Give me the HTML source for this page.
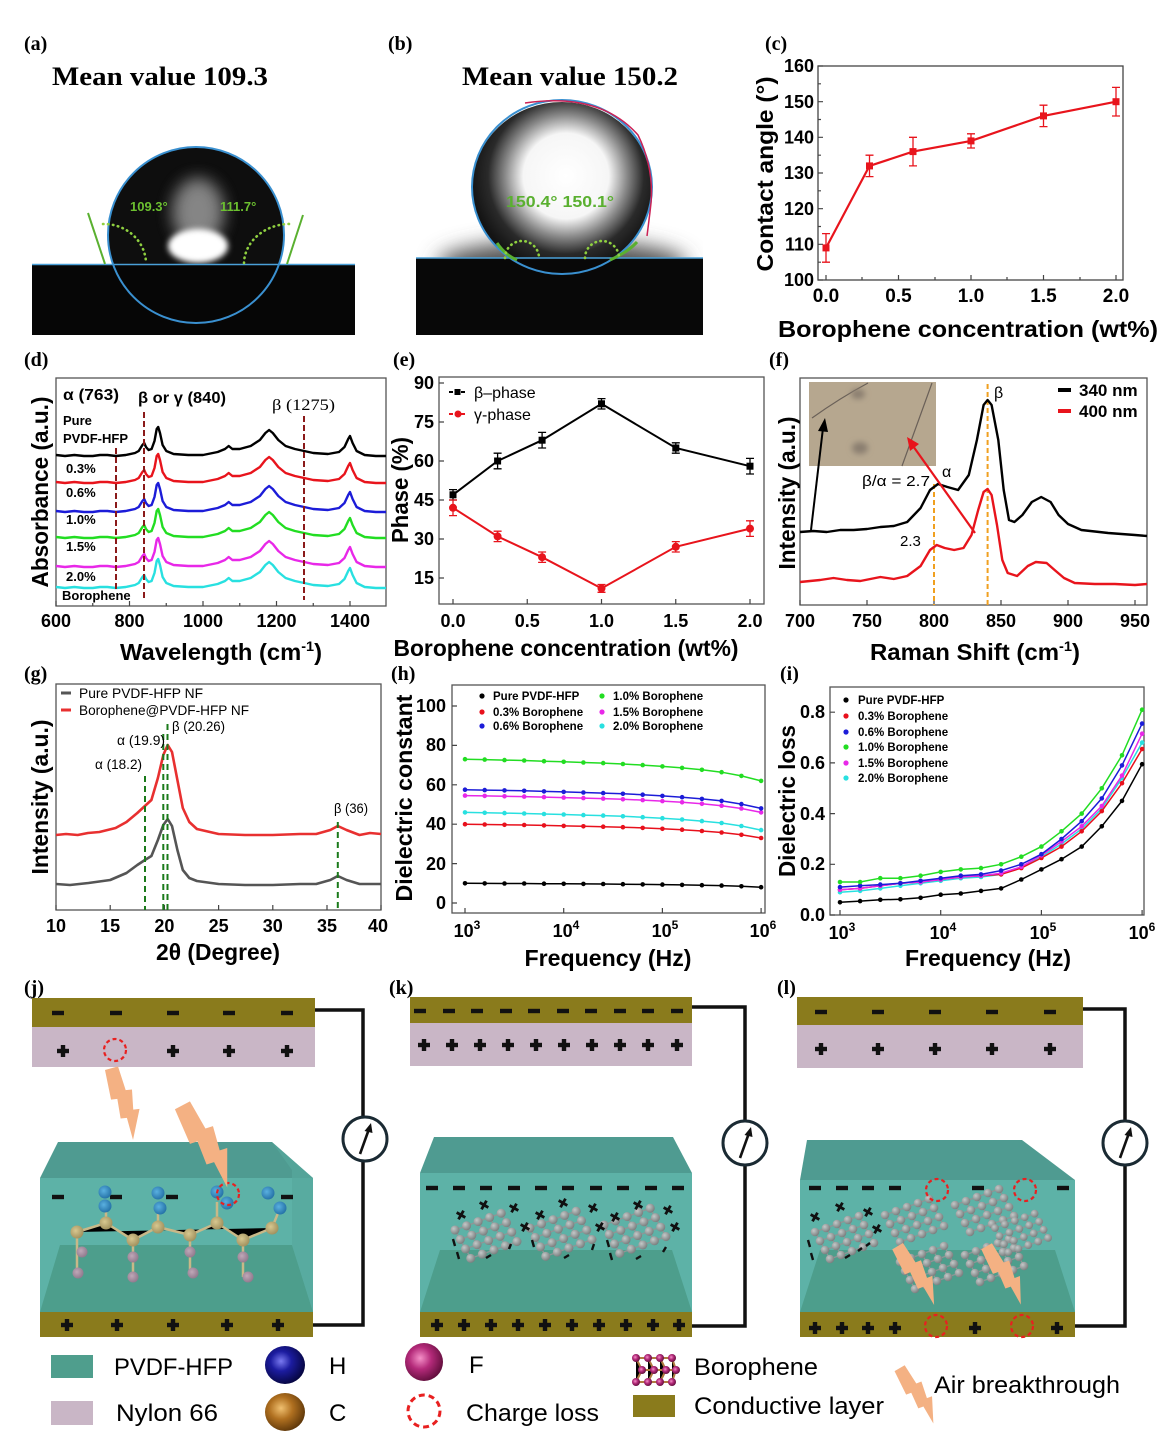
<!DOCTYPE html>
<html><head><meta charset="utf-8">
<style>
html,body{margin:0;padding:0;background:#fff;width:1171px;height:1444px;overflow:hidden}
svg{display:block}
.s{font-family:"Liberation Sans",Arial,sans-serif}
.b{font-family:"Liberation Sans",Arial,sans-serif;font-weight:bold}
.pl{font-family:"Liberation Serif","Times New Roman",serif;font-weight:bold;font-size:20px}
.tk{font-family:"Liberation Sans",Arial,sans-serif;font-weight:bold;font-size:18px}
.ttl{font-family:"Liberation Sans",Arial,sans-serif;font-weight:bold;font-size:23px}
.lg{font-family:"Liberation Sans",Arial,sans-serif;font-size:24px}
</style></head><body>
<svg width="1171" height="1444" viewBox="0 0 1171 1444" xmlns="http://www.w3.org/2000/svg">
<defs>
<filter id="bl3" x="-50%" y="-50%" width="200%" height="200%"><feGaussianBlur stdDeviation="3"/></filter>
<filter id="bl8" x="-50%" y="-50%" width="200%" height="200%"><feGaussianBlur stdDeviation="8"/></filter>
<filter id="bl10" x="-50%" y="-50%" width="200%" height="200%"><feGaussianBlur stdDeviation="10"/></filter>
<clipPath id="ca"><rect x="32" y="100" width="323" height="165"/></clipPath>
<clipPath id="dropA"><circle cx="196" cy="235" r="88"/></clipPath>
<clipPath id="cb"><rect x="416" y="93" width="287" height="166"/></clipPath>
<radialGradient id="gB" gradientUnits="userSpaceOnUse" cx="566" cy="176" r="95">
<stop offset="0" stop-color="#fff"/><stop offset="0.45" stop-color="#f6f6f6"/><stop offset="0.64" stop-color="#8a8a8a"/><stop offset="0.82" stop-color="#2a2a2a"/><stop offset="1" stop-color="#141414"/></radialGradient>
<radialGradient id="gball" cx="0.35" cy="0.35" r="0.7"><stop offset="0" stop-color="#c4c8c8"/><stop offset="1" stop-color="#767c7c"/></radialGradient>
<radialGradient id="gH" cx="0.4" cy="0.4" r="0.65"><stop offset="0" stop-color="#7a7af0"/><stop offset="0.4" stop-color="#1c1ca0"/><stop offset="1" stop-color="#04043a"/></radialGradient>
<radialGradient id="gC" cx="0.4" cy="0.4" r="0.65"><stop offset="0" stop-color="#f0c070"/><stop offset="0.45" stop-color="#b07020"/><stop offset="1" stop-color="#5a3408"/></radialGradient>
<radialGradient id="gF" cx="0.4" cy="0.4" r="0.65"><stop offset="0" stop-color="#f590c8"/><stop offset="0.45" stop-color="#b42a7a"/><stop offset="1" stop-color="#5c0c38"/></radialGradient>
<radialGradient id="gHs" cx="0.4" cy="0.4" r="0.7"><stop offset="0" stop-color="#5ab0e0"/><stop offset="1" stop-color="#1e6aa0"/></radialGradient>
<radialGradient id="gCs" cx="0.4" cy="0.4" r="0.7"><stop offset="0" stop-color="#d8c890"/><stop offset="1" stop-color="#9a8a58"/></radialGradient>
<radialGradient id="gFs" cx="0.4" cy="0.4" r="0.7"><stop offset="0" stop-color="#c0a8b8"/><stop offset="1" stop-color="#8a7488"/></radialGradient>
<polyline id="spec" fill="none" stroke-width="2.4" stroke-linejoin="round" points="56,0 65,1 74.4,0 84,1 92.8,1 100,0 107.4,0 115.9,1 125.8,0 135,-2 138.7,-4 142.4,-10 144.2,-12 146,-8 148.6,-5 151.6,-6 154.5,-14 156.7,-26 158.2,-28 160,-22 162.6,-10 166.3,-4 173.6,-1 188.3,0 203,0 217.7,-3 225,-6 228.7,-9 232.4,-6 239.7,-6 250.7,-9 259.9,-15 265.4,-22 269.1,-25 272.8,-22 278.3,-15 285.6,-9 294.9,-6 304.1,-4 313.3,-2 328,-1 339,-3 344.5,-8 348.2,-16 350,-19 352.6,-12 356.6,-4 364.7,0 375.8,1 386,1"/>
<g id="mn"><rect x="-6" y="-2.2" width="12" height="4.4" fill="#111"/></g>
<g id="pls"><rect x="-6" y="-2.2" width="12" height="4.4" fill="#111"/><rect x="-2.2" y="-6" width="4.4" height="12" fill="#111"/></g>
<g id="xm"><rect x="-5" y="-1.4" width="10" height="2.8" fill="#111" transform="rotate(30)"/><rect x="-1.4" y="-5" width="2.8" height="10" fill="#111" transform="rotate(30)"/></g>
<circle id="cl" r="11" fill="none" stroke="#e82020" stroke-width="2.2" stroke-dasharray="4 3"/>
<polygon id="bolt" points="-7,0 6,0 7,24 13,25 9,44 15,45 1,72 1,50 -5,49 -3,30 -9,29" fill="#f4b183"/>
<g id="sh">
<path d="M0,0 L44,-16 M5,9 L49,-7 M10,18 L54,2 M15,27 L59,11 M0,0 L15,27 M11,-4 L26,23 M22,-8 L37,19 M33,-12 L48,15 M44,-16 L59,11" stroke="#8e9696" stroke-width="1.3" fill="none"/>
<g fill="url(#gball)">
<circle cx="0" cy="0" r="4.3"/><circle cx="11" cy="-4" r="4.3"/><circle cx="22" cy="-8" r="4.3"/><circle cx="33" cy="-12" r="4.3"/><circle cx="44" cy="-16" r="4.3"/>
<circle cx="5" cy="9" r="4.3"/><circle cx="16" cy="5" r="4.3"/><circle cx="27" cy="1" r="4.3"/><circle cx="38" cy="-3" r="4.3"/><circle cx="49" cy="-7" r="4.3"/>
<circle cx="10" cy="18" r="4.3"/><circle cx="21" cy="14" r="4.3"/><circle cx="32" cy="10" r="4.3"/><circle cx="43" cy="6" r="4.3"/><circle cx="54" cy="2" r="4.3"/>
<circle cx="15" cy="27" r="4.3"/><circle cx="26" cy="23" r="4.3"/><circle cx="37" cy="19" r="4.3"/><circle cx="48" cy="15" r="4.3"/><circle cx="59" cy="11" r="4.3"/>
</g></g>
<g id="meter"><circle r="22" fill="#fff" stroke="#1a2a33" stroke-width="3"/><line x1="-5" y1="15" x2="4" y2="-10" stroke="#111" stroke-width="2.6"/><polygon points="6,-16 -0.5,-8 7.5,-6" fill="#111"/></g>
<marker id="m0" viewBox="-3 -3 6 6" markerWidth="6" markerHeight="6" markerUnits="userSpaceOnUse"><circle r="2.3" fill="#000"/></marker>
<marker id="m1" viewBox="-3 -3 6 6" markerWidth="6" markerHeight="6" markerUnits="userSpaceOnUse"><circle r="2.3" fill="#e8101c"/></marker>
<marker id="m2" viewBox="-3 -3 6 6" markerWidth="6" markerHeight="6" markerUnits="userSpaceOnUse"><circle r="2.3" fill="#1c1cd8"/></marker>
<marker id="m3" viewBox="-3 -3 6 6" markerWidth="6" markerHeight="6" markerUnits="userSpaceOnUse"><circle r="2.3" fill="#22dd22"/></marker>
<marker id="m4" viewBox="-3 -3 6 6" markerWidth="6" markerHeight="6" markerUnits="userSpaceOnUse"><circle r="2.3" fill="#e828e8"/></marker>
<marker id="m5" viewBox="-3 -3 6 6" markerWidth="6" markerHeight="6" markerUnits="userSpaceOnUse"><circle r="2.3" fill="#28e0e0"/></marker>
</defs>

<!-- Panel labels -->
<text class="pl" x="24" y="50">(a)</text>
<text class="pl" x="388" y="50">(b)</text>
<text class="pl" x="765" y="50">(c)</text>
<text class="pl" x="24" y="366">(d)</text>
<text class="pl" x="393" y="366">(e)</text>
<text class="pl" x="769" y="366">(f)</text>
<text class="pl" x="24" y="680">(g)</text>
<text class="pl" x="391" y="680">(h)</text>
<text class="pl" x="780" y="680">(i)</text>
<text class="pl" x="24" y="994">(j)</text>
<text class="pl" x="389" y="994">(k)</text>
<text class="pl" x="777" y="994">(l)</text>

<!-- (a) -->
<text class="pl" x="52" y="85" style="font-size:26px" textLength="216" lengthAdjust="spacingAndGlyphs">Mean value 109.3</text>
<g clip-path="url(#ca)">
<circle cx="196" cy="235" r="88" fill="#0e0e0e"/>
<g clip-path="url(#dropA)">
<ellipse cx="198" cy="212" rx="26" ry="34" fill="#9a9a9a" opacity="0.85" filter="url(#bl8)"/>
<ellipse cx="198" cy="246" rx="30" ry="17" fill="#fff" filter="url(#bl3)"/>
</g></g>
<rect x="32" y="265" width="323" height="70" fill="#060606"/>
<line x1="32" y1="264.5" x2="355" y2="264.5" stroke="#4aa0d8" stroke-width="1.5"/>
<circle cx="196" cy="235" r="88" fill="none" stroke="#3a90d0" stroke-width="2"/>
<line x1="88" y1="213" x2="105" y2="264" stroke="#5ab030" stroke-width="2"/>
<line x1="303" y1="215" x2="287" y2="264" stroke="#5ab030" stroke-width="2"/>
<path d="M103,224 A42,40 0 0 1 146,263" fill="none" stroke="#8fd040" stroke-width="2.6" stroke-dasharray="0.5 4.5" stroke-linecap="round"/>
<path d="M244,263 A46,40 0 0 1 292,224" fill="none" stroke="#8fd040" stroke-width="2.6" stroke-dasharray="0.5 4.5" stroke-linecap="round"/>
<text class="b" x="130" y="211" font-size="13" fill="#6cc030">109.3°</text>
<text class="b" x="220" y="211" font-size="13" fill="#6cc030">111.7°</text>

<!-- (b) -->
<text class="pl" x="462" y="85" style="font-size:26px" textLength="216" lengthAdjust="spacingAndGlyphs">Mean value 150.2</text>
<g clip-path="url(#cb)">
<ellipse cx="562" cy="264" rx="125" ry="24" fill="#555" filter="url(#bl10)"/>
</g>
<ellipse cx="562" cy="188" rx="90" ry="86" fill="url(#gB)"/>
<rect x="416" y="258" width="287" height="77" fill="#080808"/>
<line x1="416" y1="258" x2="703" y2="258" stroke="#4aa0d8" stroke-width="1.6"/>
<ellipse cx="562" cy="187" rx="90" ry="87" fill="none" stroke="#3a90d0" stroke-width="2"/>
<path d="M525,103 Q600,92 638,135 Q656,172 650,212 L647,236" fill="none" stroke="#cc2255" stroke-width="1.5"/>
<path d="M497,243 Q505,255 517,260" fill="none" stroke="#5ab030" stroke-width="3"/>
<path d="M610,260 Q628,252 637,242" fill="none" stroke="#5ab030" stroke-width="3"/>
<path d="M505,258 A17,17 0 0 1 539,258" fill="none" stroke="#8fd040" stroke-width="2.6" stroke-dasharray="0.5 4.5" stroke-linecap="round"/>
<path d="M585,258 A17,17 0 0 1 619,258" fill="none" stroke="#8fd040" stroke-width="2.6" stroke-dasharray="0.5 4.5" stroke-linecap="round"/>
<text class="b" x="506" y="207" font-size="16" fill="#5ab030" textLength="108" lengthAdjust="spacingAndGlyphs">150.4° 150.1°</text>

<!-- (c) -->
<rect x="818" y="66" width="305" height="214" fill="none" stroke="#444" stroke-width="1.3"/>
<path d="M818,280h5M818,244.3h5M818,208.7h5M818,173h5M818,137.3h5M818,101.7h5M818,66h5M818,262.2h3M818,226.5h3M818,190.8h3M818,155.2h3M818,119.5h3M818,83.8h3M826,280v-5M898.5,280v-5M971,280v-5M1043.5,280v-5M1116,280v-5M862,280v-3M935,280v-3M1007,280v-3M1080,280v-3" stroke="#444" stroke-width="1.2"/>
<g class="tk" text-anchor="end">
<text x="814" y="286">100</text><text x="814" y="250.5">110</text><text x="814" y="215">120</text><text x="814" y="179">130</text><text x="814" y="143.5">140</text><text x="814" y="108">150</text><text x="814" y="72">160</text></g>
<g class="tk" style="font-size:19px" text-anchor="middle">
<text x="826" y="302">0.0</text><text x="898.5" y="302">0.5</text><text x="971" y="302">1.0</text><text x="1043.5" y="302">1.5</text><text x="1116" y="302">2.0</text></g>
<polyline points="826,247.9 869.5,165.9 913,151.6 971,140.9 1043.5,115.9 1116,101.7" fill="none" stroke="#e8141c" stroke-width="2.2"/>
<path d="M826,233.6V262.2M822,233.6h8M822,262.2h8M869.5,155.2V176.6M865.5,155.2h8M865.5,176.6h8M913,137.3V165.9M909,137.3h8M909,165.9h8M971,133.8V148M967,133.8h8M967,148h8M1043.5,105.2V126.6M1039.5,105.2h8M1039.5,126.6h8M1116,87.4V116M1112,87.4h8M1112,116h8" stroke="#e8141c" stroke-width="1.3"/>
<g fill="#e8141c"><rect x="822.5" y="244.4" width="7" height="7"/><rect x="866" y="162.4" width="7" height="7"/><rect x="909.5" y="148.1" width="7" height="7"/><rect x="967.5" y="137.4" width="7" height="7"/><rect x="1040" y="112.4" width="7" height="7"/><rect x="1112.5" y="98.2" width="7" height="7"/></g>
<text class="ttl" transform="translate(773,174) rotate(-90)" text-anchor="middle" textLength="195" lengthAdjust="spacingAndGlyphs">Contact angle (°)</text>
<text class="ttl" x="968" y="337" text-anchor="middle" textLength="380" lengthAdjust="spacingAndGlyphs">Borophene concentration (wt%)</text>

<!-- (d) -->
<rect x="56" y="378" width="330" height="228" fill="none" stroke="#555" stroke-width="1.3"/>
<path d="M56,606v-5M129.5,606v-5M203,606v-5M276.5,606v-5M350,606v-5M92.75,606v-3M166.25,606v-3M239.75,606v-3M313.25,606v-3" stroke="#444" stroke-width="1.2"/>
<g class="tk" text-anchor="middle"><text x="56" y="627">600</text><text x="129.5" y="627">800</text><text x="203" y="627">1000</text><text x="276.5" y="627">1200</text><text x="350" y="627">1400</text></g>
<use href="#spec" y="455" stroke="#000"/>
<use href="#spec" y="482" stroke="#e8141c"/>
<use href="#spec" y="511" stroke="#1c1cd8"/>
<use href="#spec" y="537" stroke="#22dd22"/>
<use href="#spec" y="566" stroke="#e828e8"/>
<use href="#spec" y="587" stroke="#28e0e0"/>
<g stroke="#8b1a1a" stroke-width="2" stroke-dasharray="6 3">
<line x1="116" y1="448" x2="116" y2="592"/><line x1="144" y1="412" x2="144" y2="600"/><line x1="304" y1="416" x2="304" y2="600"/></g>
<g class="b" font-size="16">
<text x="63" y="400" textLength="56" lengthAdjust="spacingAndGlyphs">α (763)</text>
<text x="138" y="403" textLength="88" lengthAdjust="spacingAndGlyphs">β or γ (840)</text>
<text x="272" y="410" textLength="63" lengthAdjust="spacingAndGlyphs" font-weight="normal" style="font-family:'Liberation Serif',serif">β (1275)</text></g>
<g class="b" font-size="13">
<text x="63" y="425">Pure</text><text x="63" y="443">PVDF-HFP</text><text x="66" y="473">0.3%</text><text x="66" y="497">0.6%</text><text x="66" y="524">1.0%</text><text x="66" y="551">1.5%</text><text x="66" y="581">2.0%</text><text x="62" y="600">Borophene</text></g>
<text class="ttl" transform="translate(48,492) rotate(-90)" text-anchor="middle" textLength="191" lengthAdjust="spacingAndGlyphs">Absorbance (a.u.)</text>
<text class="ttl" x="221" y="660" text-anchor="middle" textLength="202" lengthAdjust="spacingAndGlyphs">Wavelength (cm<tspan dy="-9" font-size="14">-1</tspan><tspan dy="9">)</tspan></text>

<!-- (e) -->
<rect x="439" y="377" width="325" height="227" fill="none" stroke="#555" stroke-width="1.3"/>
<path d="M439,383h5M439,422h5M439,461h5M439,500h5M439,539h5M439,578h5M453,604v-5M527.25,604v-5M601.5,604v-5M675.75,604v-5M750,604v-5" stroke="#444" stroke-width="1.2"/>
<g class="tk" text-anchor="end"><text x="434" y="389">90</text><text x="434" y="428">75</text><text x="434" y="467">60</text><text x="434" y="506">45</text><text x="434" y="545">30</text><text x="434" y="584">15</text></g>
<g class="tk" text-anchor="middle"><text x="453" y="627">0.0</text><text x="527.25" y="627">0.5</text><text x="601.5" y="627">1.0</text><text x="675.75" y="627">1.5</text><text x="750" y="627">2.0</text></g>
<polyline points="453,494.8 497.6,461 542.1,440.2 601.5,403.8 675.8,448 750,466.2" fill="none" stroke="#000" stroke-width="2"/>
<path d="M453,489.6V500M449,489.6h8M449,500h8M497.6,453.2V468.8M493.6,453.2h8M493.6,468.8h8M542.1,432.4V448M538.1,432.4h8M538.1,448h8M601.5,398.6V409M597.5,398.6h8M597.5,409h8M675.8,442.8V453.2M671.8,442.8h8M671.8,453.2h8M750,458.4V474M746,458.4h8M746,474h8" stroke="#000" stroke-width="1.3"/>
<g fill="#000"><rect x="449.5" y="491.3" width="7" height="7"/><rect x="494.1" y="457.5" width="7" height="7"/><rect x="538.6" y="436.7" width="7" height="7"/><rect x="598" y="400.3" width="7" height="7"/><rect x="672.3" y="444.5" width="7" height="7"/><rect x="746.5" y="462.7" width="7" height="7"/></g>
<polyline points="453,507.8 497.6,536.4 542.1,557.2 601.5,588.4 675.8,546.8 750,528.6" fill="none" stroke="#e8141c" stroke-width="2"/>
<path d="M453,500V515.6M449,500h8M449,515.6h8M497.6,531.2V541.6M493.6,531.2h8M493.6,541.6h8M542.1,552V562.4M538.1,552h8M538.1,562.4h8M601.5,584.5V592.3M597.5,584.5h8M597.5,592.3h8M675.8,541.6V552M671.8,541.6h8M671.8,552h8M750,520.8V536.4M746,520.8h8M746,536.4h8" stroke="#e8141c" stroke-width="1.3"/>
<g fill="#e8141c"><circle cx="453" cy="507.8" r="4"/><circle cx="497.6" cy="536.4" r="4"/><circle cx="542.1" cy="557.2" r="4"/><circle cx="601.5" cy="588.4" r="4"/><circle cx="675.8" cy="546.8" r="4"/><circle cx="750" cy="528.6" r="4"/></g>
<line x1="449" y1="392" x2="467" y2="392" stroke="#000" stroke-width="2" stroke-dasharray="4 2"/><rect x="454.5" y="389" width="6" height="6" fill="#000"/>
<line x1="449" y1="414" x2="467" y2="414" stroke="#e8141c" stroke-width="2" stroke-dasharray="4 2"/><circle cx="458" cy="414" r="3.5" fill="#e8141c"/>
<text class="s" x="474" y="398" font-size="16">β–phase</text>
<text class="s" x="474" y="420" font-size="16">γ-phase</text>
<text class="ttl" transform="translate(408,490) rotate(-90)" text-anchor="middle" textLength="106" lengthAdjust="spacingAndGlyphs">Phase (%)</text>
<text class="ttl" x="566" y="656" text-anchor="middle" textLength="345" lengthAdjust="spacingAndGlyphs">Borophene concentration (wt%)</text>

<!-- (f) -->
<rect x="800" y="378" width="347" height="227" fill="none" stroke="#555" stroke-width="1.3"/>
<path d="M800,605v-5M867,605v-5M934,605v-5M1001,605v-5M1068,605v-5M1135,605v-5" stroke="#444" stroke-width="1.2"/>
<g class="tk" text-anchor="middle"><text x="800" y="627">700</text><text x="867" y="627">750</text><text x="934" y="627">800</text><text x="1001" y="627">850</text><text x="1068" y="627">900</text><text x="1135" y="627">950</text></g>
<rect x="809" y="382" width="127" height="84" fill="#b6a78f"/>
<path d="M812,418 Q840,398 868,383" stroke="#6a6058" stroke-width="1.2" fill="none"/>
<path d="M902,466 Q915,430 932,383" stroke="#6a6058" stroke-width="1.2" fill="none"/>
<ellipse cx="858" cy="394" rx="7" ry="5" fill="#8a7e70" filter="url(#bl3)"/>
<ellipse cx="860" cy="448" rx="8" ry="6" fill="#8a7e70" filter="url(#bl3)"/>
<g stroke="#f0a020" stroke-width="2" stroke-dasharray="5 3"><line x1="934" y1="484" x2="934" y2="605"/><line x1="987.6" y1="384" x2="987.6" y2="605"/></g>
<polyline fill="none" stroke="#000" stroke-width="2.4" stroke-linejoin="round" points="800,532 813.4,531 826.8,532 840.2,530 853.6,530 867,529 880.4,527 893.8,526 907.2,522 920.6,508 930,490 938,484 947.4,487 958.1,490 968.8,475 976.9,440 983.6,405 987.6,400 991.6,405 998.3,440 1003.7,490 1009,520 1014.4,522 1022.4,515 1031.8,502 1041.2,497 1050.6,502 1058.6,515 1068,524 1081.4,530 1108.2,533 1135,535 1147,536"/>
<polyline fill="none" stroke="#e8141c" stroke-width="2.4" stroke-linejoin="round" points="800,582 820.1,580 833.5,578 846.9,580 860.3,581 880.4,577 893.8,579 907.2,576 920.6,566 930,550 936.7,545 944.7,548 954.1,550 963.5,548 971.5,535 978.2,510 983.6,492 987.6,489 991.6,495 997,525 1002.3,560 1007.7,573 1017.1,576 1027.8,566 1035.8,562 1046.6,563 1054.6,570 1064,578 1074.7,583 1094.8,584 1114.9,584 1135,585 1147,584"/>
<line x1="811" y1="530" x2="823" y2="428" stroke="#000" stroke-width="2"/><polygon points="825,418 818,431 828,432" fill="#000"/>
<line x1="975" y1="533" x2="913" y2="446" stroke="#e8141c" stroke-width="2.2"/><polygon points="907,437 910,451 919,444" fill="#e8141c"/>
<line x1="1058" y1="390" x2="1071" y2="390" stroke="#000" stroke-width="4"/>
<line x1="1058" y1="411" x2="1071" y2="411" stroke="#e8141c" stroke-width="4"/>
<text class="b" x="1079" y="396" font-size="17">340 nm</text>
<text class="b" x="1079" y="417" font-size="17">400 nm</text>
<text class="s" x="994" y="398" font-size="16">β</text>
<text class="s" x="942" y="477" font-size="16">α</text>
<text class="s" x="862" y="486" font-size="15" textLength="68" lengthAdjust="spacingAndGlyphs">β/α = 2.7</text>
<text class="s" x="900" y="546" font-size="15">2.3</text>
<text class="ttl" transform="translate(795,493) rotate(-90)" text-anchor="middle" textLength="153" lengthAdjust="spacingAndGlyphs">Intensity (a.u.)</text>
<text class="ttl" x="975" y="660" text-anchor="middle" textLength="210" lengthAdjust="spacingAndGlyphs">Raman Shift (cm<tspan dy="-9" font-size="14">-1</tspan><tspan dy="9">)</tspan></text>

<!-- (g) -->
<rect x="56" y="684" width="325" height="226" fill="none" stroke="#555" stroke-width="1.3"/>
<path d="M56,910v-5M110.2,910v-5M164.4,910v-5M218.6,910v-5M272.8,910v-5M327,910v-5M381,910v-5" stroke="#444" stroke-width="1.2"/>
<g class="tk" text-anchor="middle"><text x="56" y="932">10</text><text x="110.2" y="932">15</text><text x="164.4" y="932">20</text><text x="218.6" y="932">25</text><text x="272.8" y="932">30</text><text x="327" y="932">35</text><text x="378" y="932">40</text></g>
<polyline fill="none" stroke="#e83030" stroke-width="2.6" stroke-linejoin="round" points="56,835 66,834 77.7,835 88,833 99.4,832 115.6,828 126.5,822 137.3,813 144.9,806 151.4,800 157.9,778 163.3,755 167.7,745 172,752 177.4,780 182.8,808 189.3,822 196.9,829 218.6,834 245,835 272.8,835 300,834 316.2,834 330.3,830 337.8,826 346.5,830 359.5,835 370,833 381,834"/>
<polyline fill="none" stroke="#555" stroke-width="2.6" stroke-linejoin="round" points="56,884 70,885 88.5,883 110.2,880 126.5,873 137.3,865 144.9,860 151.4,856 157.9,840 163.3,825 167.7,819 172,826 177.4,850 182.8,870 189.3,878 196.9,881 218.6,884 245,885 272.8,885 300,884 316.2,884 330.3,880 337.8,876 346.5,880 359.5,884 381,884"/>
<g stroke="#1a7a1a" stroke-width="2" stroke-dasharray="6 4">
<line x1="145" y1="776" x2="145" y2="910"/><line x1="163.3" y1="734" x2="163.3" y2="910"/><line x1="167.5" y1="724" x2="167.5" y2="910"/><line x1="337.8" y1="822" x2="337.8" y2="910"/></g>
<g class="s" font-size="14">
<text x="95" y="769" textLength="47" lengthAdjust="spacingAndGlyphs">α (18.2)</text>
<text x="117" y="745" textLength="48" lengthAdjust="spacingAndGlyphs">α (19.9)</text>
<text x="172" y="731" textLength="53" lengthAdjust="spacingAndGlyphs">β (20.26)</text>
<text x="334" y="813" textLength="34" lengthAdjust="spacingAndGlyphs">β (36)</text></g>
<line x1="61" y1="693" x2="71" y2="693" stroke="#555" stroke-width="3"/>
<line x1="61" y1="710" x2="71" y2="710" stroke="#e83030" stroke-width="3"/>
<text class="s" x="79" y="698" font-size="14" textLength="124" lengthAdjust="spacingAndGlyphs">Pure PVDF-HFP NF</text>
<text class="s" x="79" y="715" font-size="14" textLength="170" lengthAdjust="spacingAndGlyphs">Borophene@PVDF-HFP NF</text>
<text class="ttl" transform="translate(48,797) rotate(-90)" text-anchor="middle" textLength="155" lengthAdjust="spacingAndGlyphs">Intensity (a.u.)</text>
<text class="ttl" x="218" y="960" text-anchor="middle" textLength="124" lengthAdjust="spacingAndGlyphs">2θ (Degree)</text>

<!-- (h) -->
<rect x="452" y="685" width="313" height="228" fill="none" stroke="#555" stroke-width="1.3"/>
<path d="M452,903h5M452,863.6h5M452,824.2h5M452,784.8h5M452,745.4h5M452,706h5M465,913v-5M563.7,913v-5M662.4,913v-5M761.1,913v-5" stroke="#444" stroke-width="1.2"/>
<g class="tk" text-anchor="end"><text x="446" y="909">0</text><text x="446" y="870">20</text><text x="446" y="830">40</text><text x="446" y="791">60</text><text x="446" y="751">80</text><text x="446" y="712">100</text></g>
<g class="tk" text-anchor="middle"><text x="467" y="937">10<tspan dy="-8" font-size="12">3</tspan></text><text x="566" y="937">10<tspan dy="-8" font-size="12">4</tspan></text><text x="665" y="937">10<tspan dy="-8" font-size="12">5</tspan></text><text x="763" y="937">10<tspan dy="-8" font-size="12">6</tspan></text></g>
<g fill="none" stroke-width="1.5">
<polyline stroke="#000" marker-start="url(#m0)" marker-mid="url(#m0)" marker-end="url(#m0)" points="465,883.3 484.7,883.4 504.5,883.5 524.2,883.5 544,883.7 563.7,883.8 583.4,883.9 603.2,884 622.9,884.2 642.7,884.4 662.4,884.6 682.1,884.9 701.9,885.2 721.6,885.6 741.4,886.3 761.1,887.2"/>
<polyline stroke="#e8101c" marker-start="url(#m1)" marker-mid="url(#m1)" marker-end="url(#m1)" points="465,824.2 484.7,824.5 504.5,824.8 524.2,825 544,825.4 563.7,825.9 583.4,826.3 603.2,826.7 622.9,827.2 642.7,827.9 662.4,828.8 682.1,829.7 701.9,831 721.6,832.5 741.4,834.8 761.1,838"/>
<polyline stroke="#28e0e0" marker-start="url(#m5)" marker-mid="url(#m5)" marker-end="url(#m5)" points="465,812.4 484.7,812.8 504.5,813.1 524.2,813.5 544,814 563.7,814.5 583.4,815.1 603.2,815.6 622.9,816.3 642.7,817.2 662.4,818.2 682.1,819.5 701.9,821.1 721.6,823 741.4,826 761.1,830.1"/>
<polyline stroke="#e828e8" marker-start="url(#m4)" marker-mid="url(#m4)" marker-end="url(#m4)" points="465,795.6 484.7,795.9 504.5,796.3 524.2,796.6 544,797.1 563.7,797.6 583.4,798.1 603.2,798.6 622.9,799.3 642.7,800.1 662.4,801.1 682.1,802.3 701.9,803.8 721.6,805.7 741.4,808.5 761.1,812.4"/>
<polyline stroke="#1c1cd8" marker-start="url(#m2)" marker-mid="url(#m2)" marker-end="url(#m2)" points="465,789.7 484.7,790.1 504.5,790.4 524.2,790.8 544,791.4 563.7,791.9 583.4,792.5 603.2,793.1 622.9,793.8 642.7,794.7 662.4,795.9 682.1,797.2 701.9,798.9 721.6,800.9 741.4,804.1 761.1,808.4"/>
<polyline stroke="#22dd22" marker-start="url(#m3)" marker-mid="url(#m3)" marker-end="url(#m3)" points="465,759.2 484.7,759.6 504.5,760.1 524.2,760.5 544,761.2 563.7,761.8 583.4,762.5 603.2,763.1 622.9,764 642.7,765.1 662.4,766.4 682.1,767.9 701.9,769.8 721.6,772.2 741.4,775.9 761.1,780.9"/>
</g>
<g class="b" font-size="11.5">
<circle cx="482" cy="696" r="2.6" fill="#000"/><text x="493" y="700">Pure PVDF-HFP</text>
<circle cx="482" cy="712" r="2.6" fill="#e8101c"/><text x="493" y="716">0.3% Borophene</text>
<circle cx="482" cy="726" r="2.6" fill="#1c1cd8"/><text x="493" y="730">0.6% Borophene</text>
<circle cx="602" cy="696" r="2.6" fill="#22dd22"/><text x="613" y="700">1.0% Borophene</text>
<circle cx="602" cy="712" r="2.6" fill="#e828e8"/><text x="613" y="716">1.5% Borophene</text>
<circle cx="602" cy="726" r="2.6" fill="#28e0e0"/><text x="613" y="730">2.0% Borophene</text></g>
<text class="ttl" transform="translate(412,798) rotate(-90)" text-anchor="middle" textLength="207" lengthAdjust="spacingAndGlyphs">Dielectric constant</text>
<text class="ttl" x="608" y="966" text-anchor="middle" textLength="167" lengthAdjust="spacingAndGlyphs">Frequency (Hz)</text>

<!-- (i) -->
<rect x="830" y="687" width="314" height="228" fill="none" stroke="#555" stroke-width="1.3"/>
<path d="M830,915h5M830,864.3h5M830,813.6h5M830,762.9h5M830,712.2h5M840,915v-5M940.7,915v-5M1041.4,915v-5M1142.1,915v-5" stroke="#444" stroke-width="1.2"/>
<g class="tk" text-anchor="end"><text x="825" y="921">0.0</text><text x="825" y="870">0.2</text><text x="825" y="820">0.4</text><text x="825" y="769">0.6</text><text x="825" y="718">0.8</text></g>
<g class="tk" text-anchor="middle"><text x="842" y="939">10<tspan dy="-8" font-size="12">3</tspan></text><text x="943" y="939">10<tspan dy="-8" font-size="12">4</tspan></text><text x="1043" y="939">10<tspan dy="-8" font-size="12">5</tspan></text><text x="1142" y="939">10<tspan dy="-8" font-size="12">6</tspan></text></g>
<g fill="none" stroke-width="1.5">
<polyline stroke="#000" marker-start="url(#m0)" marker-mid="url(#m0)" marker-end="url(#m0)" points="840,902.3 860.1,901.1 880.3,899.8 900.4,899.3 920.6,897.8 940.7,894.7 960.8,893.5 981,890.9 1001.1,888.4 1021.3,879.5 1041.4,869.4 1061.5,859.2 1081.7,846.6 1101.8,826.3 1122,800.9 1142.1,764.2"/>
<polyline stroke="#28e0e0" marker-start="url(#m5)" marker-mid="url(#m5)" marker-end="url(#m5)" points="840,892.2 860.1,890.9 880.3,888.4 900.4,885.8 920.6,883.3 940.7,880.8 960.8,878.2 981,877 1001.1,874.4 1021.3,866.8 1041.4,856.7 1061.5,844 1081.7,828.8 1101.8,808.5 1122,778.1 1142.1,742.6"/>
<polyline stroke="#e8101c" marker-start="url(#m1)" marker-mid="url(#m1)" marker-end="url(#m1)" points="840,889.7 860.1,888.4 880.3,885.8 900.4,883.3 920.6,882 940.7,879.5 960.8,877 981,875.7 1001.1,874.4 1021.3,868.1 1041.4,858 1061.5,846.6 1081.7,831.3 1101.8,811.1 1122,783.2 1142.1,749"/>
<polyline stroke="#e828e8" marker-start="url(#m4)" marker-mid="url(#m4)" marker-end="url(#m4)" points="840,889.7 860.1,888.4 880.3,885.8 900.4,883.3 920.6,882 940.7,879.5 960.8,877 981,875.7 1001.1,873.2 1021.3,866.8 1041.4,855.4 1061.5,841.5 1081.7,826.3 1101.8,806 1122,775.6 1142.1,733.7"/>
<polyline stroke="#1c1cd8" marker-start="url(#m2)" marker-mid="url(#m2)" marker-end="url(#m2)" points="840,887.1 860.1,885.8 880.3,884.6 900.4,883.3 920.6,880.8 940.7,878.2 960.8,875.7 981,874.4 1001.1,870.6 1021.3,864.3 1041.4,854.2 1061.5,839 1081.7,821.2 1101.8,798.4 1122,765.4 1142.1,723.6"/>
<polyline stroke="#22dd22" marker-start="url(#m3)" marker-mid="url(#m3)" marker-end="url(#m3)" points="840,882 860.1,882 880.3,878.2 900.4,878.2 920.6,875.7 940.7,871.9 960.8,869.4 981,868.1 1001.1,864.3 1021.3,856.7 1041.4,846.6 1061.5,831.3 1081.7,813.6 1101.8,788.3 1122,755.3 1142.1,709.7"/>
</g>
<g class="b" font-size="11.5">
<circle cx="846" cy="700" r="2.6" fill="#000"/><text x="858" y="704">Pure PVDF-HFP</text>
<circle cx="846" cy="716" r="2.6" fill="#e8101c"/><text x="858" y="720">0.3% Borophene</text>
<circle cx="846" cy="732" r="2.6" fill="#1c1cd8"/><text x="858" y="736">0.6% Borophene</text>
<circle cx="846" cy="747" r="2.6" fill="#22dd22"/><text x="858" y="751">1.0% Borophene</text>
<circle cx="846" cy="763" r="2.6" fill="#e828e8"/><text x="858" y="767">1.5% Borophene</text>
<circle cx="846" cy="778" r="2.6" fill="#28e0e0"/><text x="858" y="782">2.0% Borophene</text></g>
<text class="ttl" transform="translate(795,801) rotate(-90)" text-anchor="middle" textLength="152" lengthAdjust="spacingAndGlyphs">Dielectric loss</text>
<text class="ttl" x="988" y="966" text-anchor="middle" textLength="166" lengthAdjust="spacingAndGlyphs">Frequency (Hz)</text>

<!-- (j) -->
<rect x="32" y="998" width="283" height="29" fill="#8a7b1c"/>
<rect x="32" y="1027" width="283" height="40" fill="#c9b6c6"/>
<use href="#mn" x="58" y="1013"/><use href="#mn" x="116" y="1013"/><use href="#mn" x="173" y="1013"/><use href="#mn" x="229" y="1013"/><use href="#mn" x="287" y="1013"/>
<use href="#pls" x="63" y="1051"/><use href="#pls" x="173" y="1051"/><use href="#pls" x="229" y="1051"/><use href="#pls" x="287" y="1051"/>
<use href="#cl" x="115" y="1050"/>
<path d="M315,1010H363V1325H312" fill="none" stroke="#111" stroke-width="3.5"/>
<use href="#meter" x="365" y="1139"/>
<polygon points="58,1142 272,1142 313,1178 40,1178" fill="#4f9b91"/>
<rect x="40" y="1178" width="273" height="134" fill="#5db2a7"/>
<polygon points="40,1312 313,1312 292,1245 60,1245" fill="#4d9e8c"/>
<polygon points="272,1142 313,1178 313,1312 292,1245 292,1170" fill="#57a89c" opacity="0.7"/>
<rect x="40" y="1312" width="273" height="25" fill="#8a7b1c"/>
<use href="#pls" x="67" y="1325"/><use href="#pls" x="117" y="1325"/><use href="#pls" x="173" y="1325"/><use href="#pls" x="227" y="1325"/><use href="#pls" x="278" y="1325"/>
<use href="#mn" x="58" y="1197"/><use href="#mn" x="116" y="1197"/><use href="#mn" x="172" y="1197"/><use href="#mn" x="287" y="1197"/>
<g stroke="#c8b888" stroke-width="2.5">
<path d="M77,1232L106,1223L133,1240L158,1227L190,1235L217,1223L243,1240L272,1228M77,1232V1273M133,1240V1277M190,1235V1273M243,1240V1277M106,1223V1205M158,1227V1208M217,1223V1202M272,1228L280,1208"/></g>
<g fill="url(#gFs)"><circle cx="82" cy="1252" r="5.5"/><circle cx="78" cy="1273" r="5.5"/><circle cx="133" cy="1257" r="5.5"/><circle cx="133" cy="1277" r="5.5"/><circle cx="190" cy="1252" r="5.5"/><circle cx="193" cy="1273" r="5.5"/><circle cx="243" cy="1257" r="5.5"/><circle cx="248" cy="1277" r="5.5"/></g>
<g fill="url(#gCs)"><circle cx="77" cy="1232" r="6.5"/><circle cx="106" cy="1223" r="6.5"/><circle cx="133" cy="1240" r="6.5"/><circle cx="158" cy="1227" r="6.5"/><circle cx="190" cy="1235" r="6.5"/><circle cx="217" cy="1223" r="6.5"/><circle cx="243" cy="1240" r="6.5"/><circle cx="272" cy="1228" r="6.5"/></g>
<g fill="url(#gHs)"><circle cx="105" cy="1192" r="6.5"/><circle cx="105" cy="1206" r="6.5"/><circle cx="158" cy="1193" r="6.5"/><circle cx="160" cy="1208" r="6.5"/><circle cx="217" cy="1192" r="6.5"/><circle cx="227" cy="1203" r="6.5"/><circle cx="268" cy="1193" r="6.5"/><circle cx="280" cy="1208" r="6.5"/></g>
<use href="#cl" x="228" y="1194"/>
<use href="#bolt" transform="translate(112,1068) rotate(-15.5) scale(1.04)"/>
<use href="#bolt" transform="translate(183,1105) rotate(-27.4) scale(1.3)"/>

<!-- (k) -->
<rect x="410" y="997" width="282" height="26" fill="#8a7b1c"/>
<rect x="410" y="1023" width="282" height="43" fill="#c9b6c6"/>
<g>
<use href="#mn" x="420" y="1011"/><use href="#mn" x="449" y="1011"/><use href="#mn" x="477" y="1011"/><use href="#mn" x="506" y="1011"/><use href="#mn" x="534" y="1011"/><use href="#mn" x="563" y="1011"/><use href="#mn" x="591" y="1011"/><use href="#mn" x="620" y="1011"/><use href="#mn" x="648" y="1011"/><use href="#mn" x="677" y="1011"/>
<use href="#pls" x="424" y="1045"/><use href="#pls" x="452" y="1045"/><use href="#pls" x="480" y="1045"/><use href="#pls" x="508" y="1045"/><use href="#pls" x="536" y="1045"/><use href="#pls" x="564" y="1045"/><use href="#pls" x="592" y="1045"/><use href="#pls" x="620" y="1045"/><use href="#pls" x="648" y="1045"/><use href="#pls" x="677" y="1045"/></g>
<path d="M692,1007H745V1326H692" fill="none" stroke="#111" stroke-width="3.5"/>
<use href="#meter" x="745" y="1143"/>
<polygon points="434,1137 673,1137 692,1173 420,1173" fill="#4f9b91"/>
<rect x="420" y="1173" width="272" height="139" fill="#5db2a7"/>
<polygon points="420,1312 692,1312 672,1250 440,1250" fill="#4d9e8c"/>
<rect x="420" y="1312" width="272" height="25" fill="#8a7b1c"/>
<use href="#mn" x="432" y="1188"/><use href="#mn" x="459" y="1188"/><use href="#mn" x="486" y="1188"/><use href="#mn" x="514" y="1188"/><use href="#mn" x="541" y="1188"/><use href="#mn" x="568" y="1188"/><use href="#mn" x="596" y="1188"/><use href="#mn" x="623" y="1188"/><use href="#mn" x="651" y="1188"/><use href="#mn" x="678" y="1188"/>
<use href="#pls" x="437" y="1325"/><use href="#pls" x="464" y="1325"/><use href="#pls" x="491" y="1325"/><use href="#pls" x="518" y="1325"/><use href="#pls" x="545" y="1325"/><use href="#pls" x="572" y="1325"/><use href="#pls" x="599" y="1325"/><use href="#pls" x="626" y="1325"/><use href="#pls" x="653" y="1325"/><use href="#pls" x="679" y="1325"/>
<use href="#sh" transform="translate(455,1230) scale(1.05)"/>
<use href="#sh" transform="translate(530,1228) scale(1.05)"/>
<use href="#sh" transform="translate(604,1225) scale(1.05)"/>
<use href="#xm" x="461" y="1215"/><use href="#xm" x="484" y="1205"/><use href="#xm" x="514" y="1208"/><use href="#xm" x="540" y="1215"/><use href="#xm" x="563" y="1203"/><use href="#xm" x="593" y="1208"/><use href="#xm" x="615" y="1217"/><use href="#xm" x="638" y="1205"/><use href="#xm" x="668" y="1210"/><use href="#xm" x="525" y="1227"/><use href="#xm" x="600" y="1227"/><use href="#xm" x="675" y="1227"/>
<g stroke="#111" stroke-width="2.4">
<path d="M453,1239l2,7M457,1252l2,7M486,1258l5,-3M509,1249l2,-5M532,1240l2,7M564,1258l5,-3M592,1250l2,-6M607,1240l2,7M610,1253l2,7M636,1259l5,-3M663,1252l3,-5"/></g>

<!-- (l) -->
<rect x="797" y="997" width="286" height="28" fill="#8a7b1c"/>
<rect x="797" y="1025" width="286" height="43" fill="#c9b6c6"/>
<use href="#mn" x="821" y="1012"/><use href="#mn" x="878" y="1012"/><use href="#mn" x="935" y="1012"/><use href="#mn" x="992" y="1012"/><use href="#mn" x="1050" y="1012"/>
<use href="#pls" x="821" y="1049"/><use href="#pls" x="878" y="1049"/><use href="#pls" x="935" y="1049"/><use href="#pls" x="992" y="1049"/><use href="#pls" x="1050" y="1049"/>
<path d="M1083,1009H1125V1326H1075" fill="none" stroke="#111" stroke-width="3.5"/>
<use href="#meter" x="1125" y="1143"/>
<polygon points="807,1140 1022,1140 1075,1180 800,1180" fill="#4f9b91"/>
<rect x="800" y="1180" width="275" height="132" fill="#5db2a7"/>
<polygon points="800,1312 1075,1312 1055,1250 820,1250" fill="#4d9e8c"/>
<rect x="800" y="1312" width="275" height="25" fill="#8a7b1c"/>
<use href="#mn" x="815" y="1188"/><use href="#mn" x="842" y="1188"/><use href="#mn" x="868" y="1188"/><use href="#mn" x="895" y="1188"/><use href="#mn" x="978" y="1188"/><use href="#mn" x="1063" y="1188"/>
<use href="#pls" x="815" y="1328"/><use href="#pls" x="842" y="1328"/><use href="#pls" x="868" y="1328"/><use href="#pls" x="895" y="1328"/><use href="#pls" x="975" y="1328"/><use href="#pls" x="1057" y="1328"/>
<use href="#sh" transform="translate(815,1232)"/>
<use href="#sh" transform="translate(885,1215)"/>
<use href="#sh" transform="translate(955,1205)"/>
<use href="#sh" transform="translate(900,1262)"/>
<use href="#sh" transform="translate(965,1255)"/>
<use href="#sh" transform="translate(995,1228) scale(0.9)"/>
<use href="#xm" x="815" y="1217"/><use href="#xm" x="840" y="1207"/><use href="#xm" x="868" y="1212"/><use href="#xm" x="877" y="1229"/>
<g stroke="#111" stroke-width="2.4"><path d="M808,1240l2,7M811,1253l2,7M845,1258l5,-3M858,1251l4,-3M866,1246l4,-3"/></g>
<use href="#cl" x="937" y="1190"/><use href="#cl" x="1025" y="1190"/>
<use href="#cl" x="936" y="1326"/><use href="#cl" x="1022" y="1326"/>
<use href="#bolt" transform="translate(898,1246) rotate(-30.7) scale(0.96)"/>
<use href="#bolt" transform="translate(987,1246) rotate(-29.2) scale(0.94)"/>

<!-- Legend -->
<rect x="51" y="1355" width="42" height="23" fill="#4f9e8d"/>
<rect x="51" y="1401" width="42" height="24" fill="#c9b6c6"/>
<text class="lg" x="114" y="1375" textLength="119" lengthAdjust="spacingAndGlyphs">PVDF-HFP</text>
<text class="lg" x="116" y="1421" textLength="102" lengthAdjust="spacingAndGlyphs">Nylon 66</text>
<ellipse cx="285" cy="1365" rx="20" ry="19" fill="url(#gH)"/>
<ellipse cx="285" cy="1412" rx="20" ry="19" fill="url(#gC)"/>
<text class="lg" x="329" y="1374">H</text>
<text class="lg" x="329" y="1421">C</text>
<ellipse cx="424" cy="1362" rx="19" ry="19" fill="url(#gF)"/>
<circle cx="424" cy="1411" r="16" fill="none" stroke="#e82020" stroke-width="3" stroke-dasharray="6 4"/>
<text class="lg" x="469" y="1373">F</text>
<text class="lg" x="466" y="1421" textLength="133" lengthAdjust="spacingAndGlyphs">Charge loss</text>
<g stroke="#b07a40" stroke-width="2"><path d="M636,1358L672,1358M642,1370L676,1370M636,1382L672,1382M636,1358L642,1370L636,1382M648,1358L654,1370L648,1382M660,1358L666,1370L660,1382M672,1358L676,1370L672,1382"/></g>
<g fill="url(#gF)"><circle cx="636" cy="1358" r="4"/><circle cx="648" cy="1358" r="4"/><circle cx="660" cy="1358" r="4"/><circle cx="672" cy="1358" r="4"/><circle cx="642" cy="1370" r="4"/><circle cx="654" cy="1370" r="4"/><circle cx="666" cy="1370" r="4"/><circle cx="676" cy="1370" r="4"/><circle cx="636" cy="1382" r="4"/><circle cx="648" cy="1382" r="4"/><circle cx="660" cy="1382" r="4"/><circle cx="672" cy="1382" r="4"/></g>
<text class="lg" x="694" y="1375" textLength="124" lengthAdjust="spacingAndGlyphs">Borophene</text>
<rect x="633" y="1395" width="42" height="22" fill="#8a7b1c"/>
<text class="lg" x="694" y="1414" textLength="190" lengthAdjust="spacingAndGlyphs">Conductive layer</text>
<use href="#bolt" transform="translate(900,1368) rotate(-30.2) scale(0.9)"/>
<text class="lg" x="934" y="1393" textLength="186" lengthAdjust="spacingAndGlyphs">Air breakthrough</text>
</svg>
</body></html>
